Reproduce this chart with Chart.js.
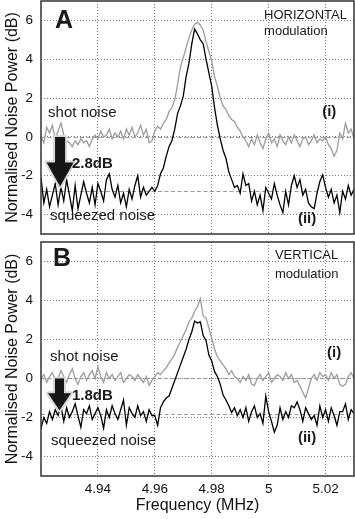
<!DOCTYPE html>
<html>
<head>
<meta charset="utf-8">
<script src="https://cdn.jsdelivr.net/npm/chart.js@4"></script>
<style>
  html, body { margin: 0; padding: 0; background: #fff; }
  #wrap { position: relative; width: 355px; height: 519px; }
  canvas { position: absolute; left: 0; }
  #chartA { top: 0; }
  #chartB { top: 241px; }
</style>
</head>
<body>
<div id="wrap">
  <canvas id="chartA" width="355" height="236"></canvas>
  <canvas id="chartB" width="355" height="278"></canvas>
</div>
<script>
// frequency grid (MHz)
const freq = [
  4.920, 4.921, 4.922, 4.923, 4.924, 4.925, 4.926, 4.927, 4.928, 4.929,
  4.930, 4.931, 4.932, 4.933, 4.934, 4.935, 4.936, 4.937, 4.938, 4.939,
  4.940, 4.941, 4.942, 4.943, 4.944, 4.945, 4.946, 4.947, 4.948, 4.949,
  4.950, 4.951, 4.952, 4.953, 4.954, 4.955, 4.956, 4.957, 4.958, 4.959,
  4.960, 4.961, 4.962, 4.963, 4.964, 4.965, 4.966, 4.967, 4.968, 4.969,
  4.970, 4.971, 4.972, 4.973, 4.974, 4.975, 4.976, 4.977, 4.978, 4.979,
  4.980, 4.981, 4.982, 4.983, 4.984, 4.985, 4.986, 4.987, 4.988, 4.989,
  4.990, 4.991, 4.992, 4.993, 4.994, 4.995, 4.996, 4.997, 4.998, 4.999,
  5.000, 5.001, 5.002, 5.003, 5.004, 5.005, 5.006, 5.007, 5.008, 5.009,
  5.010, 5.011, 5.012, 5.013, 5.014, 5.015, 5.016, 5.017, 5.018, 5.019,
  5.020, 5.021, 5.022, 5.023, 5.024, 5.025, 5.026, 5.027, 5.028, 5.029,
  5.030
];

// panel A, horizontal modulation (dB)
const shotA = [
  0.0, -0.3, 0.5, 0.2, 0.6, -0.1, 0.3, 0.7, 0.1, -0.2,
  -0.3, -0.5, -0.2, -0.4, -0.1, -0.3, -0.2, -0.5, -0.1, 0.1,
  -0.1, 0.3, 0.0, 0.1, 0.4, -0.1, 0.2, 0.0, 0.3, -0.1,
  0.4, 0.1, 0.5, 0.0, 0.2, 0.6, 0.1, 0.4, -0.3, -0.2,
  0.3, 0.55, 0.4, 0.7, 0.9, 1.3, 1.5, 1.9, 2.7, 3.6,
  4.1, 4.6, 5.1, 5.5, 5.8, 5.9, 5.75, 5.5, 4.9, 4.4,
  3.9, 3.1, 2.6, 2.0, 1.6, 1.4, 1.1, 0.9, 0.8, 0.5,
  0.3, 0.0, -0.2, -0.5, -0.1, -0.4, 0.1, -0.3, -0.6, -0.1,
  0.2, -0.3, -0.1, -0.5, 0.1, -0.2, -0.4, 0.0, -0.3, 0.1,
  -0.2, -0.5, -0.1, 0.0, -0.4, -0.2, 0.1, -0.3, -0.1, -0.2,
  0.0, -0.4, -0.6, -1.0, -0.7, 0.2, -0.1, 0.7, 0.2, 0.4,
  -0.1
];
const sqzA = [
  -2.1, -3.4, -2.7, -3.6, -3.0, -2.4, -3.5, -2.6, -3.3, -2.2,
  -3.0, -3.8, -2.5, -3.7, -3.0, -2.3, -2.9, -3.4, -2.6, -3.5,
  -2.4, -2.8, -3.3, -2.2, -1.9, -2.7, -3.1, -2.5, -3.4, -2.9,
  -3.6, -2.7, -3.2, -2.5, -2.0, -3.1, -2.6, -3.0, -2.8, -2.6,
  -2.8, -2.5, -1.9, -1.6, -1.0, -0.5, -0.2, 0.4, 1.2, 1.6,
  2.1, 3.1, 3.8, 4.8, 5.55, 5.3, 5.0, 4.8, 4.0, 3.3,
  2.6, 1.5, 0.6, -0.1, -0.7, -1.1, -1.8, -2.2, -2.6, -2.5,
  -2.9, -1.9, -2.5, -2.4, -3.3, -2.8, -3.5, -3.0, -3.8, -2.6,
  -2.9, -3.2, -2.4, -3.0, -3.5, -3.9, -2.8, -3.5, -2.5, -2.0,
  -2.6, -2.2, -3.0, -2.7, -3.4, -3.6, -3.7, -2.9, -2.3, -1.95,
  -2.6, -3.1, -2.7, -3.4, -3.0, -3.9, -2.8, -3.2, -2.5, -3.0,
  -2.7
];

// panel B, vertical modulation (dB)
const shotB = [
  0.0, 0.2, -0.2, 0.1, 0.3, -0.1, 0.0, 0.4, 0.1, -0.2,
  0.2, 0.5, 0.0, -0.3, 0.1, 0.3, -0.1, 0.2, 0.4, 0.0,
  0.6, 0.1, -0.2, 0.3, 0.0, 0.2, -0.1, 0.1, 0.3, -0.2,
  0.0, 0.2, 0.1, -0.1, 0.2, 0.0, -0.2, 0.1, -0.35, -0.1,
  0.1, 0.3, 0.2, 0.4, 0.55, 0.8, 1.0, 1.25, 1.6, 1.9,
  2.2, 2.5, 2.9, 3.1, 3.45, 3.7, 4.1, 3.2, 3.1, 2.6,
  2.05, 1.5, 1.1, 0.9, 0.7, 0.5, 0.2, 0.4, 0.1, 0.0,
  -0.2, 0.1, -0.1, 0.2, -0.3, -0.35, 0.0, 0.2, -0.1, 0.1,
  0.3, -0.2, 0.0, 0.2, 0.1, -0.1, 0.3, 0.0, 0.2, -0.2,
  -0.1, -0.4, -0.7, -1.0, -0.5, 0.0, 0.2, -0.1, 0.3, 0.1,
  0.2, -0.1, 0.3, 0.0, 0.2, -0.3, -0.4, -0.3, 0.1, 0.3,
  0.0
];
const sqzB = [
  -2.55, -2.0, -2.3, -1.7, -2.1, -1.6, -1.9, -1.4, -2.2, -1.5,
  -2.0, -1.7, -1.3, -1.9, -2.5, -1.6, -1.8, -1.4, -2.1, -1.8,
  -1.5, -1.9, -2.55, -1.6, -2.0, -1.4, -1.8, -2.1, -1.6, -1.1,
  -2.4, -1.5, -1.8, -2.0, -1.4, -1.9, -1.7, -2.2, -1.6, -1.9,
  -1.9, -2.4, -1.5, -1.2, -1.0, -0.9, -0.5, -0.1, 0.3, 0.7,
  1.1, 1.5, 2.0, 2.4, 2.95, 2.85, 2.9, 2.2, 1.95, 1.2,
  0.9, 0.35, 0.1, -0.3, -0.85, -1.1, -1.4, -1.75, -1.5, -1.9,
  -1.6, -2.0, -1.5, -2.2, -1.7, -1.4, -2.0, -1.8, -2.3, -0.9,
  -1.7, -2.2, -2.75, -2.4, -1.5, -2.1, -1.7, -2.0, -1.4, -1.5,
  -1.2, -1.6, -2.2, -1.5, -1.8, -2.1, -1.9, -2.4, -1.4, -2.0,
  -1.6, -2.2, -1.5, -1.9, -2.4, -1.7, -1.7, -1.3, -2.1, -1.6,
  -1.8
];

const xTicks = [4.94, 4.96, 4.98, 5.00, 5.02];
const yTicks = [-4, -2, 0, 2, 4, 6];
const squeezeA = -2.8;
const squeezeB = -1.8;

const FONT = '"Liberation Sans", Arial, Helvetica, sans-serif';

// reference lines, frame, arrow and text labels
const extrasPlugin = {
  id: 'extras',
  beforeDatasetsDraw(chart, args, opts) {
    const { ctx, chartArea: a, scales: { y } } = chart;
    ctx.save();
    ctx.strokeStyle = '#9a9a9a';
    ctx.lineWidth = 1;
    ctx.setLineDash([4, 2.5]);
    opts.refLines.forEach(v => {
      const py = Math.round(y.getPixelForValue(v)) + 0.5;
      ctx.beginPath();
      ctx.moveTo(a.left, py);
      ctx.lineTo(a.right, py);
      ctx.stroke();
    });
    ctx.restore();
  },
  afterDatasetsDraw(chart, args, opts) {
    const { ctx, chartArea: a, scales: { x, y } } = chart;
    ctx.save();
    // frame
    ctx.strokeStyle = '#333';
    ctx.lineWidth = 1.5;
    ctx.strokeRect(a.left, a.top, a.right - a.left, a.bottom - a.top);

    // squeezing arrow
    const ar = opts.arrow;
    const ax = x.getPixelForValue(ar.x);
    const y0 = y.getPixelForValue(ar.from);
    const y1 = y.getPixelForValue(ar.to);
    const hb = y1 - ar.headLen;
    ctx.beginPath();
    ctx.moveTo(ax - ar.shaft, y0);
    ctx.lineTo(ax + ar.shaft, y0);
    ctx.lineTo(ax + ar.shaft, hb);
    ctx.lineTo(ax + ar.head, hb);
    ctx.lineTo(ax, y1);
    ctx.lineTo(ax - ar.head, hb);
    ctx.lineTo(ax - ar.shaft, hb);
    ctx.closePath();
    ctx.lineJoin = 'round';
    ctx.strokeStyle = '#d6d6d6';
    ctx.lineWidth = 4;
    ctx.stroke();
    ctx.fillStyle = '#161616';
    ctx.fill();

    // text
    ctx.textAlign = 'left';
    ctx.textBaseline = 'alphabetic';
    opts.labels.forEach(l => {
      ctx.font = `${l.bold ? 'bold ' : ''}${l.size}px ${FONT}`;
      ctx.fillStyle = '#1a1a1a';
      ctx.fillText(l.text, x.getPixelForValue(l.x), y.getPixelForValue(l.y));
    });
    ctx.restore();
  }
};

function makeChart(id, shot, sqz, extras, showX) {
  const gridStyle = { color: '#7a7a7a', lineWidth: 1, drawTicks: false };
  const borderStyle = { display: false, dash: [1, 2] };
  return new Chart(document.getElementById(id), {
    type: 'line',
    data: {
      datasets: [
        { data: freq.map((f, i) => ({ x: f, y: sqz[i] })), borderColor: '#000', borderWidth: 1.3 },
        { data: freq.map((f, i) => ({ x: f, y: shot[i] })), borderColor: '#9c9c9c', borderWidth: 1.3 }
      ]
    },
    options: {
      responsive: false,
      animation: false,
      devicePixelRatio: 1,
      layout: { padding: { top: 1, right: 1, left: 0, bottom: 0 } },
      elements: { point: { radius: 0 }, line: { tension: 0 } },
      plugins: { legend: { display: false }, tooltip: { enabled: false }, extras },
      scales: {
        x: {
          type: 'linear', min: 4.92, max: 5.03,
          afterBuildTicks: s => { s.ticks = xTicks.map(v => ({ value: v })); },
          afterFit: s => {
            s.height = showX ? 43 : 2;
            s.paddingLeft = 0; s.paddingRight = 0;
          },
          grid: gridStyle, border: borderStyle,
          ticks: {
            display: showX, padding: 5, color: '#111', maxRotation: 0,
            font: { family: FONT, size: 13.5 },
            callback: v => String(+Number(v).toFixed(2))
          },
          title: {
            display: showX, text: 'Frequency (MHz)', color: '#111',
            font: { family: FONT, size: 16 }, padding: { top: 0, bottom: 4 }
          }
        },
        y: {
          min: -5, max: 7,
          afterBuildTicks: s => { s.ticks = yTicks.map(v => ({ value: v })); },
          afterFit: s => {
            s.width = 41;
            s.paddingTop = 0; s.paddingBottom = 0;
          },
          grid: gridStyle, border: borderStyle,
          ticks: { padding: 8, color: '#111', font: { family: FONT, size: 13.5 } },
          title: {
            display: true, text: 'Normalised Noise Power (dB)', color: '#111',
            font: { family: FONT, size: 16 }, padding: { top: 3, bottom: 0 }
          }
        }
      }
    },
    plugins: [extrasPlugin]
  });
}

makeChart('chartA', shotA, sqzA, {
  refLines: [0, squeezeA],
  arrow: { x: 4.9267, from: 0, to: -2.55, shaft: 5, head: 13.5, headLen: 24 },
  labels: [
    { text: 'A', x: 4.9249, y: 5.6, size: 25, bold: true },
    { text: 'HORIZONTAL', x: 4.9984, y: 6.07, size: 13 },
    { text: 'modulation', x: 4.9984, y: 5.26, size: 13 },
    { text: 'shot noise', x: 4.9225, y: 1.02, size: 15 },
    { text: '2.8dB', x: 4.9309, y: -1.58, size: 15, bold: true },
    { text: 'squeezed noise', x: 4.9232, y: -4.29, size: 15 },
    { text: '(i)', x: 5.0188, y: 1.07, size: 15, bold: true },
    { text: '(ii)', x: 5.0103, y: -4.44, size: 15, bold: true }
  ]
}, false);

makeChart('chartB', shotB, sqzB, {
  refLines: [0, squeezeB],
  arrow: { x: 4.9265, from: 0, to: -1.63, shaft: 4.5, head: 11.5, headLen: 17 },
  labels: [
    { text: 'B', x: 4.9242, y: 5.77, size: 25, bold: true },
    { text: 'VERTICAL', x: 5.0022, y: 6.12, size: 13 },
    { text: 'modulation', x: 5.0022, y: 5.15, size: 13 },
    { text: 'shot noise', x: 4.9232, y: 0.92, size: 15 },
    { text: '1.8dB', x: 4.9309, y: -1.12, size: 15, bold: true },
    { text: 'squeezed noise', x: 4.9235, y: -3.42, size: 15 },
    { text: '(i)', x: 5.0205, y: 1.12, size: 15, bold: true },
    { text: '(ii)', x: 5.0103, y: -3.27, size: 15, bold: true }
  ]
}, true);
</script>
</body>
</html>
